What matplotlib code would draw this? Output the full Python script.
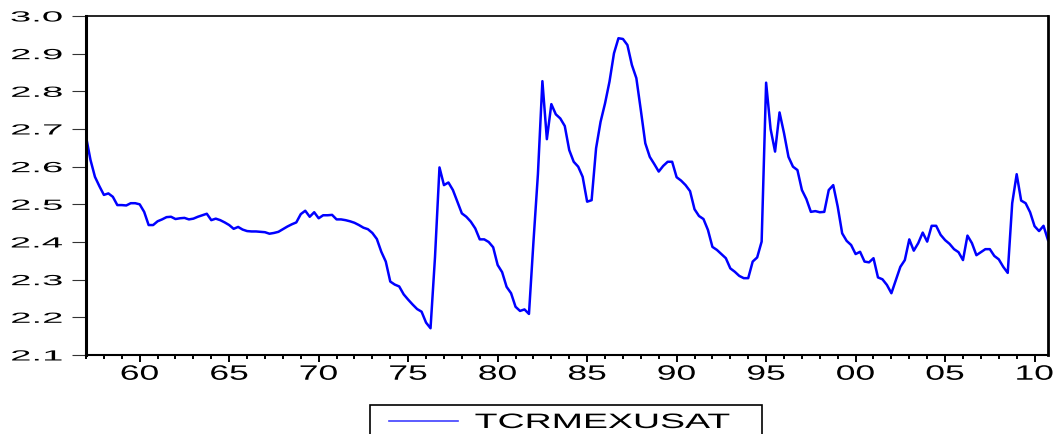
import numpy as np
import pandas as pd
import matplotlib
matplotlib.use("Agg")
import matplotlib.pyplot as plt
import matplotlib.patheffects as pe
from matplotlib.transforms import Affine2D
from matplotlib.patches import Rectangle
from matplotlib.lines import Line2D

# quarterly real exchange rate, 1957Q1 - 2010Q4
series_name = "TCRMEXUSAT"
start_quarter = "1957Q1"
tcr = [
    2.680, 2.618, 2.573, 2.548, 2.525, 2.529, 2.520, 2.498, 2.498, 2.497,
    2.503, 2.503, 2.500, 2.480, 2.445, 2.445, 2.455, 2.460, 2.466, 2.467,
    2.461, 2.463, 2.464, 2.460, 2.462, 2.467, 2.471, 2.475, 2.458, 2.462,
    2.458, 2.452, 2.445, 2.435, 2.440, 2.433, 2.429, 2.428, 2.428, 2.427,
    2.426, 2.422, 2.424, 2.427, 2.434, 2.441, 2.447, 2.452, 2.474, 2.483,
    2.467, 2.479, 2.463, 2.471, 2.471, 2.472, 2.460, 2.460, 2.458, 2.455,
    2.451, 2.445, 2.438, 2.434, 2.424, 2.408, 2.374, 2.348, 2.295, 2.287,
    2.282, 2.261, 2.247, 2.234, 2.222, 2.215, 2.186, 2.171, 2.360, 2.598,
    2.551, 2.558, 2.538, 2.507, 2.476, 2.467, 2.454, 2.436, 2.407, 2.407,
    2.400, 2.386, 2.339, 2.320, 2.281, 2.264, 2.228, 2.217, 2.221, 2.209,
    2.400, 2.580, 2.827, 2.673, 2.766, 2.739, 2.728, 2.708, 2.644, 2.613,
    2.600, 2.573, 2.507, 2.511, 2.649, 2.719, 2.768, 2.826, 2.901, 2.941,
    2.939, 2.923, 2.870, 2.835, 2.750, 2.662, 2.626, 2.607, 2.587, 2.602,
    2.613, 2.613, 2.572, 2.563, 2.551, 2.535, 2.487, 2.469, 2.461, 2.432,
    2.387, 2.379, 2.368, 2.357, 2.330, 2.321, 2.310, 2.304, 2.304, 2.348,
    2.359, 2.401, 2.823, 2.700, 2.640, 2.744, 2.689, 2.626, 2.600, 2.591,
    2.538, 2.514, 2.480, 2.482, 2.479, 2.480, 2.538, 2.551, 2.494, 2.423,
    2.403, 2.392, 2.368, 2.374, 2.348, 2.346, 2.357, 2.306, 2.301, 2.286,
    2.264, 2.299, 2.334, 2.352, 2.407, 2.377, 2.397, 2.425, 2.401, 2.443,
    2.443, 2.419, 2.405, 2.395, 2.381, 2.373, 2.352, 2.417, 2.397, 2.365,
    2.373, 2.381, 2.381, 2.363, 2.354, 2.334, 2.318, 2.503, 2.580, 2.510,
    2.503, 2.479, 2.442, 2.429, 2.443, 2.405,
]
year_ticks = list(range(1960, 2011, 5))
y_ticks = [2.1, 2.2, 2.3, 2.4, 2.5, 2.6, 2.7, 2.8, 2.9, 3.0]


class Widen(pe.AbstractPathEffect):
    """Stretch glyphs sideways around a point of their ink box."""

    def __init__(self, sx, anchor=0.5):
        super().__init__()
        self.sx = sx
        self.anchor = anchor

    def draw_path(self, renderer, gc, tpath, affine, rgbFace=None):
        ext = tpath.get_extents()
        cx = ext.x0 + self.anchor * ext.width
        stretch = Affine2D().translate(-cx, 0).scale(self.sx, 1).translate(cx, 0)
        renderer.draw_path(gc, tpath, stretch + affine, rgbFace)


plt.rcParams["font.family"] = ["Liberation Sans", "DejaVu Sans"]

idx = pd.period_range(start_quarter, periods=len(tcr), freq="Q")
t = idx.year + (idx.quarter - 1) / 4.0

W, H = 1056, 434
fig = plt.figure(figsize=(W / 100, H / 100), dpi=100)
ax = fig.add_axes([86 / W, 1 - 355 / H, 962 / W, 339 / H])

ax.plot(t, tcr, color="#0000ff", lw=1.8)

ax.set_xlim(t[0], t[-1])
ax.set_ylim(2.1, 3.0)
ax.set_yticks(y_ticks)
ax.set_yticklabels(["%.1f" % v for v in y_ticks])
ax.set_xticks(year_ticks)
ax.set_xticklabels(["%02d" % (y % 100) for y in year_ticks])
ax.set_xticks(range(1957, 2011), minor=True)

ax.tick_params(axis="y", direction="out", length=10, width=0.8, color="#333333",
               pad=7, labelsize=10.6)
ax.tick_params(axis="x", which="major", direction="out", length=5, width=1.4,
               pad=2, labelsize=15)
ax.tick_params(axis="x", which="minor", direction="out", length=3, width=1.4)

for lab in ax.get_yticklabels():
    lab.set_path_effects([Widen(2.6, anchor=1.0)])
for lab in ax.get_xticklabels():
    lab.set_path_effects([Widen(1.7)])

ax.spines["left"].set_linewidth(2.2)
ax.spines["right"].set_linewidth(2.0)
ax.spines["top"].set_linewidth(1.2)
ax.spines["bottom"].set_linewidth(1.5)

# legend box under the plot
fig.add_artist(Rectangle((370 / W, 1 - 445 / H), 392 / W, 40 / H,
                         transform=fig.transFigure, fill=False, ec="black", lw=1.2))
fig.add_artist(Line2D([389 / W, 458 / W], [1 - 421 / H] * 2,
                      transform=fig.transFigure, color="#4040ff", lw=1.2))
fig.text(475 / W, 1 - 428 / H, series_name, ha="left", va="baseline", fontsize=15,
         path_effects=[Widen(1.8, anchor=0.0)])

plt.savefig("out.png", dpi=100)
plt.close()
